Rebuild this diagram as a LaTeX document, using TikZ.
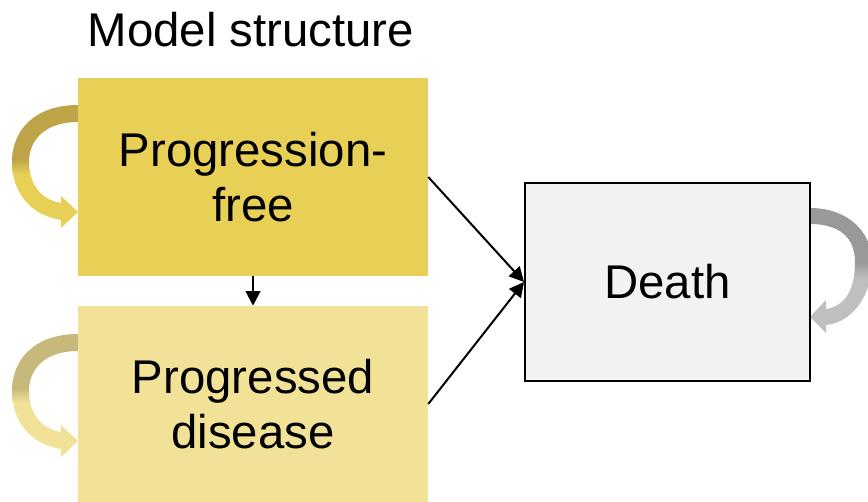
\documentclass[tikz,border=0pt]{standalone}
\usepackage{fontspec}
\setmainfont{Liberation Sans}
\usetikzlibrary{arrows.meta}
\definecolor{pfgold}{RGB}{232,207,85}
\definecolor{pfdark}{RGB}{190,163,72}
\definecolor{pdgold}{RGB}{242,226,151}
\definecolor{pddark}{RGB}{199,185,124}
\definecolor{dgrey}{RGB}{153,153,153}
\definecolor{lgrey}{RGB}{191,191,191}
\definecolor{deathfill}{RGB}{242,242,242}
\pgfdeclareverticalshading{pfloop}{100bp}{color(0bp)=(pfgold); color(47bp)=(pfgold); color(53bp)=(pfdark); color(100bp)=(pfdark)}
\pgfdeclareverticalshading{pdloop}{100bp}{color(0bp)=(pdgold); color(47bp)=(pdgold); color(53bp)=(pddark); color(100bp)=(pddark)}
\pgfdeclareverticalshading{dloop}{100bp}{color(0bp)=(lgrey); color(47bp)=(lgrey); color(53bp)=(dgrey); color(100bp)=(dgrey)}
\tikzset{
  statebox/.style={inner sep=0pt, align=center, minimum width=262.5pt,
    font=\fontsize{35.5}{41}\selectfont},
  conn/.style={line width=1.5pt, -{Triangle[length=11pt,width=11pt]}},
  titletext/.style={font=\fontsize{35.5}{41}\selectfont, inner sep=0pt}
}
\begin{document}
\begin{tikzpicture}[x=0.75pt, y=-0.75pt]
\useasboundingbox (0,0) rectangle (868,502);
% self loops
\shade[shading=pfloop] (78,105) .. controls (35,105) and (12,130) .. (12,162) .. controls (12,192) and (30,215) .. (61,220) -- (61,203) .. controls (42,200) and (29,185) .. (29,162) .. controls (29,140) and (45,122) .. (78,122) -- cycle (61,196) -- (78,212) -- (61,228) -- cycle;
\begin{scope}[shift={(0,229)}]
\shade[shading=pdloop] (78,105) .. controls (35,105) and (12,130) .. (12,162) .. controls (12,192) and (30,215) .. (61,220) -- (61,203) .. controls (42,200) and (29,185) .. (29,162) .. controls (29,140) and (45,122) .. (78,122) -- cycle (61,196) -- (78,212) -- (61,228) -- cycle;
\end{scope}
\shade[shading=dloop] (810,208) .. controls (848,208) and (872,232) .. (872,262) .. controls (872,292) and (855,322) .. (826,325) -- (826,309) .. controls (845,306) and (855,290) .. (855,262) .. controls (855,238) and (840,224) .. (810,224) -- cycle (826,300) -- (810,317) -- (826,333) -- cycle;
% title
\node[titletext] (title) at (251,30) {Model structure};
% states
\node[statebox, fill=pfgold, minimum height=148.5pt] (pf) at (253,177) {Progression-\\free};
\node[statebox, fill=pdgold, minimum height=147pt] (pd) at (253,404) {Progressed\\disease};
\node[statebox, fill=deathfill, draw=black, line width=1.5pt, minimum width=213.75pt, minimum height=148.5pt] (death) at (667.5,282) {Death};
% transitions
\draw[conn] (pf.east) -- (death.west);
\draw[conn] (pd.east) -- (death.west);
\draw[conn] (pf.south) -- (pd.north);
\end{tikzpicture}
\end{document}
